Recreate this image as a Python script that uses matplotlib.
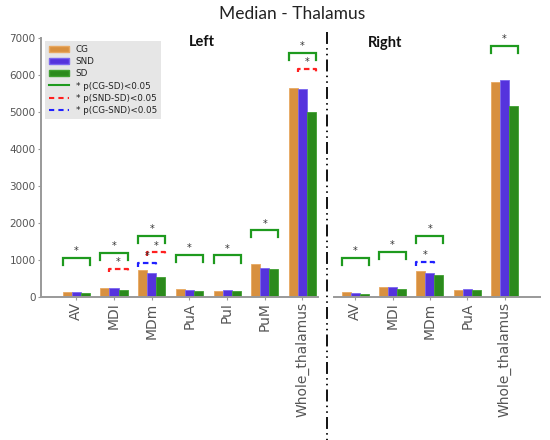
import matplotlib
matplotlib.use("Agg")
import matplotlib.pyplot as plt
from matplotlib.patches import Patch
from matplotlib.lines import Line2D
import numpy as np

# ---------------- data ----------------
groups = ["CG", "SND", "SD"]
left_regions = ["AV", "MDI", "MDm", "PuA", "PuI", "PuM", "Whole_thalamus"]
left_cg = [125, 245, 710, 205, 160, 880, 5660]
left_snd = [125, 245, 630, 180, 180, 790, 5630]
left_sd = [90, 185, 530, 155, 155, 745, 4990]

right_regions = ["AV", "MDI", "MDm", "PuA", "Whole_thalamus"]
right_cg = [120, 270, 700, 190, 5810]
right_snd = [90, 250, 630, 210, 5870]
right_sd = [85, 220, 580, 180, 5160]

yticks = [0, 1000, 2000, 3000, 4000, 5000, 6000, 7000]

# significance brackets: (region index, comparison, bracket top)
left_sig = [
    (0, "CG-SD", 1060), (1, "CG-SD", 1190), (2, "CG-SD", 1640),
    (3, "CG-SD", 1140), (4, "CG-SD", 1115), (5, "CG-SD", 1795),
    (6, "CG-SD", 6600),
    (1, "SND-SD", 750), (2, "SND-SD", 1200), (6, "SND-SD", 6170),
    (2, "CG-SND", 905),
]
right_sig = [
    (0, "CG-SD", 1050), (1, "CG-SD", 1215), (2, "CG-SD", 1650),
    (4, "CG-SD", 6790),
    (2, "CG-SND", 930),
]

# ---------------- style ----------------
bar_colors = ["#D8903F", "#5533DD", "#2B8A1C"]
edge_colors = ["#E8A860", "#7A66F0", "#3FA030"]
sig_style = {
    "CG-SD": dict(color="#1E9A1E", ls="-", span=(0, 2), leg=190),
    "SND-SD": dict(color="#FF2020", ls=(0, (2.5, 1.5)), span=(1, 2), leg=90),
    "CG-SND": dict(color="#2020FF", ls=(0, (2.5, 1.5)), span=(0, 1), leg=90),
}
W = 0.24
gray_txt = "#555555"
spine_c = "#999999"

fig = plt.figure(figsize=(5.5, 4.4), dpi=100)
fig.patch.set_facecolor("white")

bottom = 1 - 296.7 / 440
top = 1 - 38 / 440
axL = fig.add_axes([41 / 550, bottom, (318.3 - 41) / 550, top - bottom])
axR = fig.add_axes([334 / 550, bottom, (540 - 334) / 550, top - bottom])


def draw(ax, regions, series, sigs):
    x = np.arange(len(regions))
    for i, vals in enumerate(series):
        ax.bar(x + (i - 1) * W, vals, W, color=bar_colors[i],
               edgecolor=edge_colors[i], linewidth=0.6, zorder=2)
    for idx, comp, h in sigs:
        st = sig_style[comp]
        a, b = st["span"]
        x0 = idx + (a - 1) * W - W / 2
        x1 = idx + (b - 1) * W + W / 2
        ax.plot([x0, x0, x1, x1], [h - st["leg"], h, h, h - st["leg"]],
                color=st["color"], ls=st["ls"], lw=1.6,
                solid_joinstyle="miter", zorder=3)
        ax.text((x0 + x1) / 2, h + 50, "*", ha="center", va="bottom",
                fontsize=7, color="#333333", zorder=4)
    ax.set_xticks(x)
    ax.set_xticklabels(regions, rotation=90, fontsize=10, color=gray_txt)
    ax.set_ylim(0, 7000)
    for s in ["top", "right"]:
        ax.spines[s].set_visible(False)
    ax.spines["bottom"].set_color(spine_c)
    ax.spines["bottom"].set_linewidth(1.4)
    ax.spines["left"].set_color(spine_c)
    ax.spines["left"].set_linewidth(1.4)
    ax.tick_params(axis="x", length=2, color=spine_c, pad=2)
    ax.set_facecolor("none")


draw(axL, left_regions, [left_cg, left_snd, left_sd], left_sig)
draw(axR, right_regions, [right_cg, right_snd, right_sd], right_sig)

axL.set_xlim(-0.936, 6.42)
axR.set_xlim(-0.57, 4.95)
axL.set_yticks(yticks)
axL.set_yticklabels([str(v) for v in yticks], fontsize=7.5, color=gray_txt)
axL.tick_params(axis="y", length=2, color=spine_c, pad=2)
axR.spines["left"].set_visible(False)
axR.set_yticks([])

# legend
handles = [
    Patch(facecolor=bar_colors[0], edgecolor=edge_colors[0], label="CG"),
    Patch(facecolor=bar_colors[1], edgecolor=edge_colors[1], label="SND"),
    Patch(facecolor=bar_colors[2], edgecolor=edge_colors[2], label="SD"),
    Line2D([], [], color="#1E9A1E", lw=1.5, label="* p(CG-SD)<0.05"),
    Line2D([], [], color="#FF2020", lw=1.5, ls=(0, (2.5, 2)), label="* p(SND-SD)<0.05"),
    Line2D([], [], color="#2020FF", lw=1.5, ls=(0, (2.5, 2)), label="* p(CG-SND)<0.05"),
]
leg = fig.legend(handles=handles, loc="upper left",
                 bbox_to_anchor=(45 / 550, 1 - 41 / 440),
                 bbox_transform=fig.transFigure, borderaxespad=0,
                 fontsize=6.3, labelspacing=0.35, handlelength=2.2,
                 handletextpad=0.8, borderpad=0.5, frameon=True,
                 fancybox=False)
leg.get_frame().set_facecolor("#E6E6E6")
leg.get_frame().set_edgecolor("none")
leg.get_frame().set_alpha(1)
for t in leg.get_texts():
    t.set_color("#222222")

# titles
fig.text(292 / 550, 1 - 14 / 440, "Median - Thalamus", ha="center", va="center",
         fontsize=12.5, family="Lato", color="#222222")
fig.text(202 / 550, 1 - 42 / 440, "Left", ha="center", va="center",
         fontsize=10.5, family="Lato", fontweight="bold", color="#111111")
fig.text(385 / 550, 1 - 43 / 440, "Right", ha="center", va="center",
         fontsize=10.5, family="Lato", fontweight="bold", color="#111111")

# separator dash-dot-dot line
lw = 1.3
pat = [8.6, 3.0, 1.1, 3.0, 1.1, 3.0]
sep = Line2D([326.7 / 550, 326.7 / 550], [1 - 32 / 440, 0.0],
             transform=fig.transFigure, color="black", lw=lw,
             dashes=[p / lw for p in pat])
fig.add_artist(sep)

fig.savefig("out.png", dpi=100, facecolor="white")
